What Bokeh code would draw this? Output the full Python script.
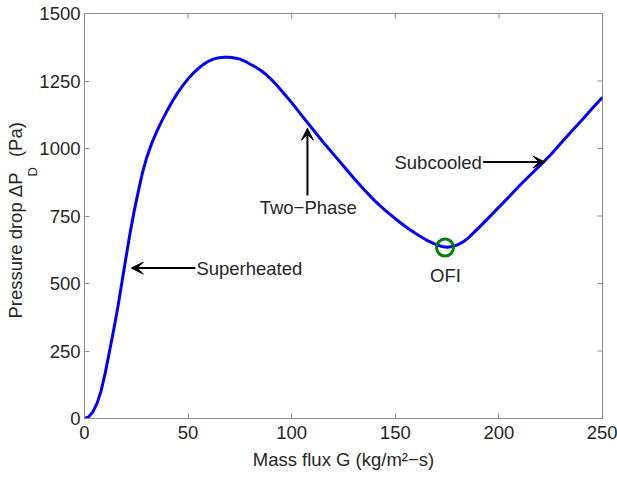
from bokeh.plotting import figure
from bokeh.models import (Range1d, FixedTicker, Label, Arrow, VeeHead, Title)
from bokeh.embed import file_html
from bokeh.resources import INLINE

# ---- data ----
mass_flux = [0, 2, 4, 6, 8, 10, 12, 14, 16, 18, 20, 22, 24, 26, 28, 30,
             32.5, 35, 37.5, 40, 42.5, 45, 47.5, 50, 52.5, 55, 57.5, 60, 62.5, 65,
             67.5, 70, 72.5, 75, 77.5, 80, 82.5, 85, 87.5, 90, 92.5, 95, 97.5, 100,
             105, 110, 115, 120, 125, 130, 135, 140, 145, 150, 155, 160, 165, 170,
             172.5, 175, 177.5, 180, 182.5, 185, 190, 195, 200, 205, 210, 215, 220,
             225, 230, 235, 240, 245, 250]
pressure_drop = [0, 6, 24, 55, 102, 168, 246, 325, 408, 502, 595, 687, 769, 842, 911, 966,
                 1020, 1065, 1105, 1142, 1176, 1207, 1234, 1258, 1279, 1297, 1312, 1324,
                 1332, 1336.5, 1338, 1338, 1335.5, 1331, 1323, 1312, 1302, 1290, 1275,
                 1257, 1237, 1215, 1193, 1170, 1121, 1073, 1025, 980, 935, 890, 847, 807,
                 772, 740, 710, 684, 661, 643, 637, 634, 637, 643, 653, 667, 704, 743,
                 783, 822, 863, 901, 938, 977, 1020, 1063, 1105, 1148, 1190]
ofi_point = (174, 633)
x_ticks = [0, 50, 100, 150, 200, 250]
y_ticks = [0, 250, 500, 750, 1000, 1250, 1500]

# annotations: (text, x, y)
superheated = ("Superheated", 54, 557)
superheated_arrow = (53.5, 557, 22.6, 557)
two_phase = ("Two\u2212Phase", 108, 783)
two_phase_arrow = (107.6, 826, 107.6, 1075)
subcooled = ("Subcooled", 149.6, 950)
subcooled_arrow = (192.4, 950, 222.2, 950)
ofi_label = ("OFI", 174.2, 530)
y_label_main = "Pressure drop \u0394P\u00a0\u00a0 (Pa)"
y_label_sub = "D"

FONT = "Liberation Sans"
FS = "18.5px"
GRAY = "#8c8c8c"
TXT = "#262626"
X0, X1, Y0, Y1 = 0, 250, 0, 1500
FRAME_W, FRAME_H = 518, 405
TICK = 5

p = figure(width=617, height=481, output_backend="svg", toolbar_location=None,
           x_range=Range1d(X0, X1), y_range=Range1d(Y0, Y1),
           min_border_left=84, min_border_right=15, min_border_top=13,
           min_border_bottom=63)
p.grid.visible = False
p.background_fill_color = "white"
p.border_fill_color = "white"
p.outline_line_color = GRAY
p.outline_line_width = 1

for ax, ticks in ((p.xaxis[0], x_ticks), (p.yaxis[0], y_ticks)):
    ax.ticker = FixedTicker(ticks=ticks)
    ax.major_tick_in = TICK
    ax.major_tick_out = 0
    ax.minor_tick_line_color = None
    ax.axis_line_color = GRAY
    ax.major_tick_line_color = GRAY
    ax.major_label_text_font = FONT
    ax.major_label_text_font_size = FS
    ax.major_label_text_color = TXT

p.xaxis[0].major_label_standoff = 7
p.xaxis[0].axis_label = "Mass flux G (kg/m\u00b2\u2212s)"
p.xaxis[0].axis_label_text_font = FONT
p.xaxis[0].axis_label_text_font_size = FS
p.xaxis[0].axis_label_text_font_style = "normal"
p.xaxis[0].axis_label_text_color = TXT
p.xaxis[0].axis_label_standoff = 7
p.yaxis[0].major_label_standoff = 4

# y-axis label as two side titles (subscript nearer the axis)
p.add_layout(Title(text=y_label_sub, align="left", offset=242, standoff=-6,
                   text_font=FONT, text_font_size="13px", text_font_style="normal",
                   text_color=TXT), "left")
p.add_layout(Title(text=y_label_main, align="left", offset=100, standoff=0,
                   text_font=FONT, text_font_size=FS, text_font_style="normal",
                   text_color=TXT), "left")

# box-style inward ticks on the right and top edges
dx = TICK * (X1 - X0) / FRAME_W
dy = TICK * (Y1 - Y0) / FRAME_H
p.segment(x0=[X1 - dx] * len(y_ticks), y0=y_ticks, x1=[X1] * len(y_ticks), y1=y_ticks,
          line_color=GRAY, line_width=1)
p.segment(x0=x_ticks, y0=[Y1 - dy] * len(x_ticks), x1=x_ticks, y1=[Y1] * len(x_ticks),
          line_color=GRAY, line_width=1)

# curve
p.line(mass_flux, pressure_drop, line_color="#0000ff", line_width=3, line_join="round")

# OFI marker
p.scatter([ofi_point[0]], [ofi_point[1]], marker="circle", size=17,
          fill_color=None, line_color="#008000", line_width=3)

# arrows
for (x0, y0, x1, y1) in (superheated_arrow, two_phase_arrow, subcooled_arrow):
    p.add_layout(Arrow(x_start=x0, y_start=y0, x_end=x1, y_end=y1,
                       line_color="black", line_width=2,
                       end=VeeHead(size=12, line_color="black", line_width=1,
                                   fill_color="black")))

def lab(t, x, y, align):
    p.add_layout(Label(x=x, y=y, text=t, text_font=FONT, text_font_size=FS,
                       text_color=TXT, text_align=align, text_baseline="middle"))

lab(superheated[0], superheated[1], superheated[2], "left")
lab(subcooled[0], subcooled[1], subcooled[2], "left")
lab(two_phase[0], two_phase[1], two_phase[2], "center")
lab(ofi_label[0], ofi_label[1], ofi_label[2], "center")

open("out.html", "w").write(file_html(p, INLINE))
